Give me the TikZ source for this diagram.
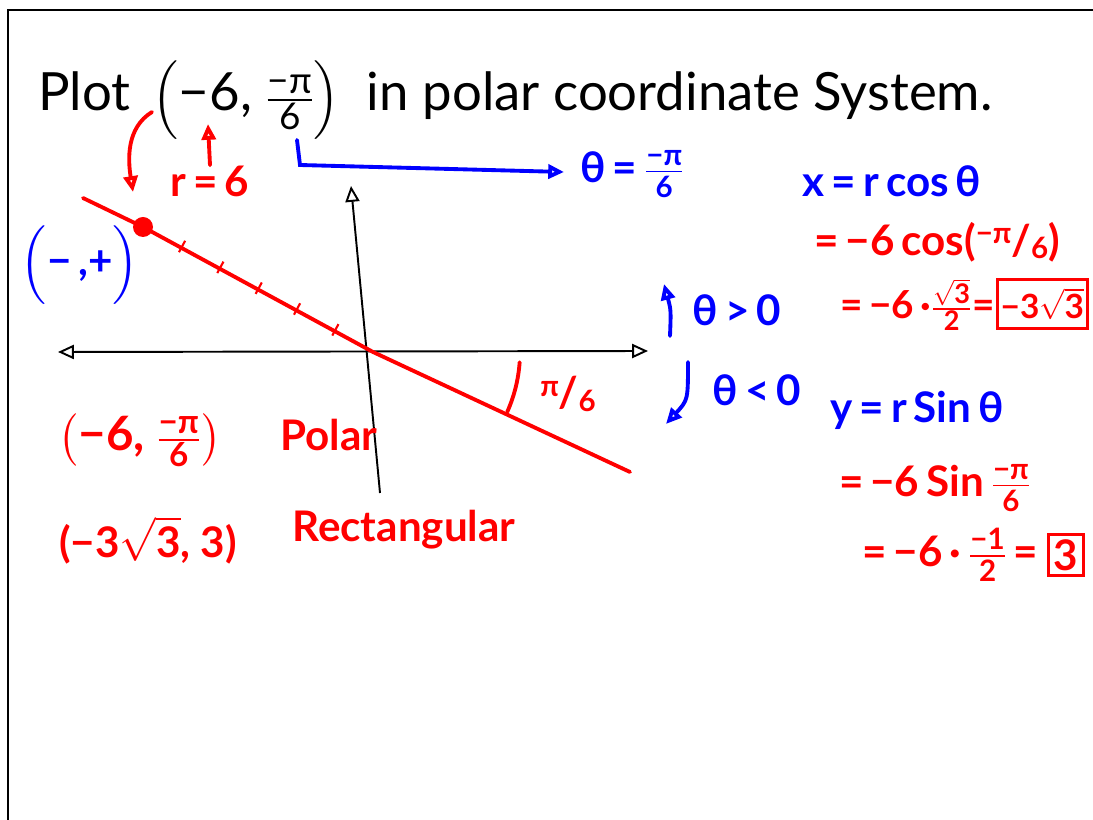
\documentclass[tikz,border=0pt]{standalone}
\usepackage{amsmath}
\usepackage{graphicx}
\usepackage{fontspec}
\setmainfont{Lato}
\definecolor{penred}{RGB}{255,0,0}
\definecolor{penblue}{RGB}{0,0,255}
\usetikzlibrary{arrows.meta,calc}
\newcommand\fr[2]{$\frac{\text{#1}}{\text{#2}}$}
\newcommand\sfr[2]{\raisebox{.55ex}{\scalebox{.7}{#1}}/\raisebox{-.15ex}{\scalebox{.7}{#2}}}
\newcommand\rt[1]{$\sqrt{\text{#1}}$}

\begin{document}
\begin{tikzpicture}[x=0.02cm,y=-0.02cm,
    >={Triangle[open,length=9pt,width=8pt]},
    ink/.style={inner sep=0pt,font=\fontsize{24}{28}\selectfont},
    redink/.style={ink,text=penred,font=\fontsize{24}{28}\selectfont\bfseries},
    blueink/.style={ink,text=penblue,font=\fontsize{24}{28}\selectfont\bfseries},
    boxed/.style={redink,draw=penred,line width=1.6pt,inner sep=3pt},
    axis/.style={line width=1.1pt},
    redpen/.style={penred,line width=2.2pt,line cap=round},
    bluepen/.style={penblue,line width=2.2pt,line cap=round}]
  % page and frame
  \useasboundingbox (0,0) rectangle (1093,820);
  \draw[line width=1.6pt] (1093,10) -- (8,10) -- (8,820);
  \node[ink,anchor=west,font=\fontsize{30}{34}\selectfont] (title) at (38,100)
    {Plot\, $\left(\text{−6, }\frac{\text{−π}}{\text{6}}\right)$ \ in\ polar\ coordinate\ System.};

  % r and theta read off the point
  \node[redink] (rval) at (210,181) {r\,=\,6};
  \coordinate (sixtip) at (208,124);
  \draw[redpen,->] (rval.north) -- (sixtip);
  \coordinate (rfrom) at (152,112);
  \coordinate (rto) at (133,192);
  \draw[redpen,->] (rfrom) .. controls (126,128) and (128,160) .. (rto);
  \node[blueink,anchor=west] (thval) at (580,174) {θ\,=\,\fr{−π}{6}};
  \coordinate (pifrom) at (297,140);
  \draw[bluepen,->] (pifrom) -- (300,165) -- ($(thval.west)+(-16,-2)$);

  % axes
  \coordinate (O) at (373,352);
  \coordinate (xl) at (58,352);
  \coordinate (xr) at (648,351);
  \coordinate (yt) at (351,186);
  \coordinate (yb) at (380,493);
  \draw[axis,<->] (xl) -- (xr);
  \draw[axis,->] (yb) -- (yt);

  % the ray through the point and its 6 unit ticks
  \coordinate (P) at (143,227);
  \coordinate (rayend) at (83,198);
  \coordinate (rayfar) at (630,472);
  \draw[redpen] (rayend) -- (P) -- (O) -- (rayfar);
  \fill[penred] (P) circle (10);
  \foreach \k in {1,...,5}
    \draw[penred,line width=1.2pt]
      ($($(P)!\k/6!(O)$)!0.16cm!90:(O)$) -- ($($(P)!\k/6!(O)$)!0.1cm!-90:(O)$);
  \draw[redpen] (O) ++(4:147) arc[start angle=4,end angle=24,radius=147];
  \node[redink] (angle) at (568,394) {\sfr{π}{6}};
  \node[blueink] (quad) at (80,265) {$\Bigl(\text{−\,,+}\Bigr)$};

  % sign of theta
  \node[blueink] (thpos) at (737,310) {θ\,>\,0};
  \coordinate (upA) at (670,336);
  \coordinate (upB) at (664,284);
  \draw[bluepen,->] (upA) .. controls (671,310) .. (upB);
  \node[blueink] (thneg) at (757,390) {θ\,<\,0};
  \coordinate (dnA) at (688,362);
  \coordinate (dnB) at (666,424);
  \draw[bluepen,->] (dnA) .. controls (688,400) .. (dnB);

  % x coordinate
  \node[blueink] (xeq) at (892,181) {x\,=\,r\,cos\,θ};
  \node[redink] (xs1) at (937,242) {=\,−6\,cos(\sfr{−π}{6})};
  \node[redink,anchor=west,font=\fontsize{22}{24}\selectfont\bfseries] (xs2) at (840,305)
    {=\,−6\,·$\frac{\sqrt{\text{3}}}{\text{2}}$=};
  \node[boxed,anchor=east,font=\fontsize{19}{22}\selectfont\bfseries,inner xsep=2pt,inner ysep=5pt]
    (xbox) at (1089,304) {−3\rt{3}};

  % y coordinate
  \node[blueink] (yeq) at (917,410) {y\,=\,r\,Sin\,θ};
  \node[redink] (ys1) at (935,488) {=\,−6\,Sin\,\fr{−π}{6}};
  \node[redink,anchor=west] (ys2) at (862,555) {=\,−6\,·\,\fr{−1}{2}\,=};
  \node[boxed,anchor=east] (ybox) at (1085,555) {3};

  % the two forms of the point
  \node[redink,font=\fontsize{27}{30}\selectfont\bfseries] (polarpt) at (140,440)
    {$\left(\text{−6, }\frac{\text{−π}}{\text{6}}\right)$};
  \node[redink,anchor=west] (polarlbl) at (280,435) {Polar};
  \node[redink] (rectpt) at (148,540) {(−3\rt{3}, 3)};
  \node[redink,anchor=west] (rectlbl) at (292,530) {Rectangular};
\end{tikzpicture}
\end{document}
